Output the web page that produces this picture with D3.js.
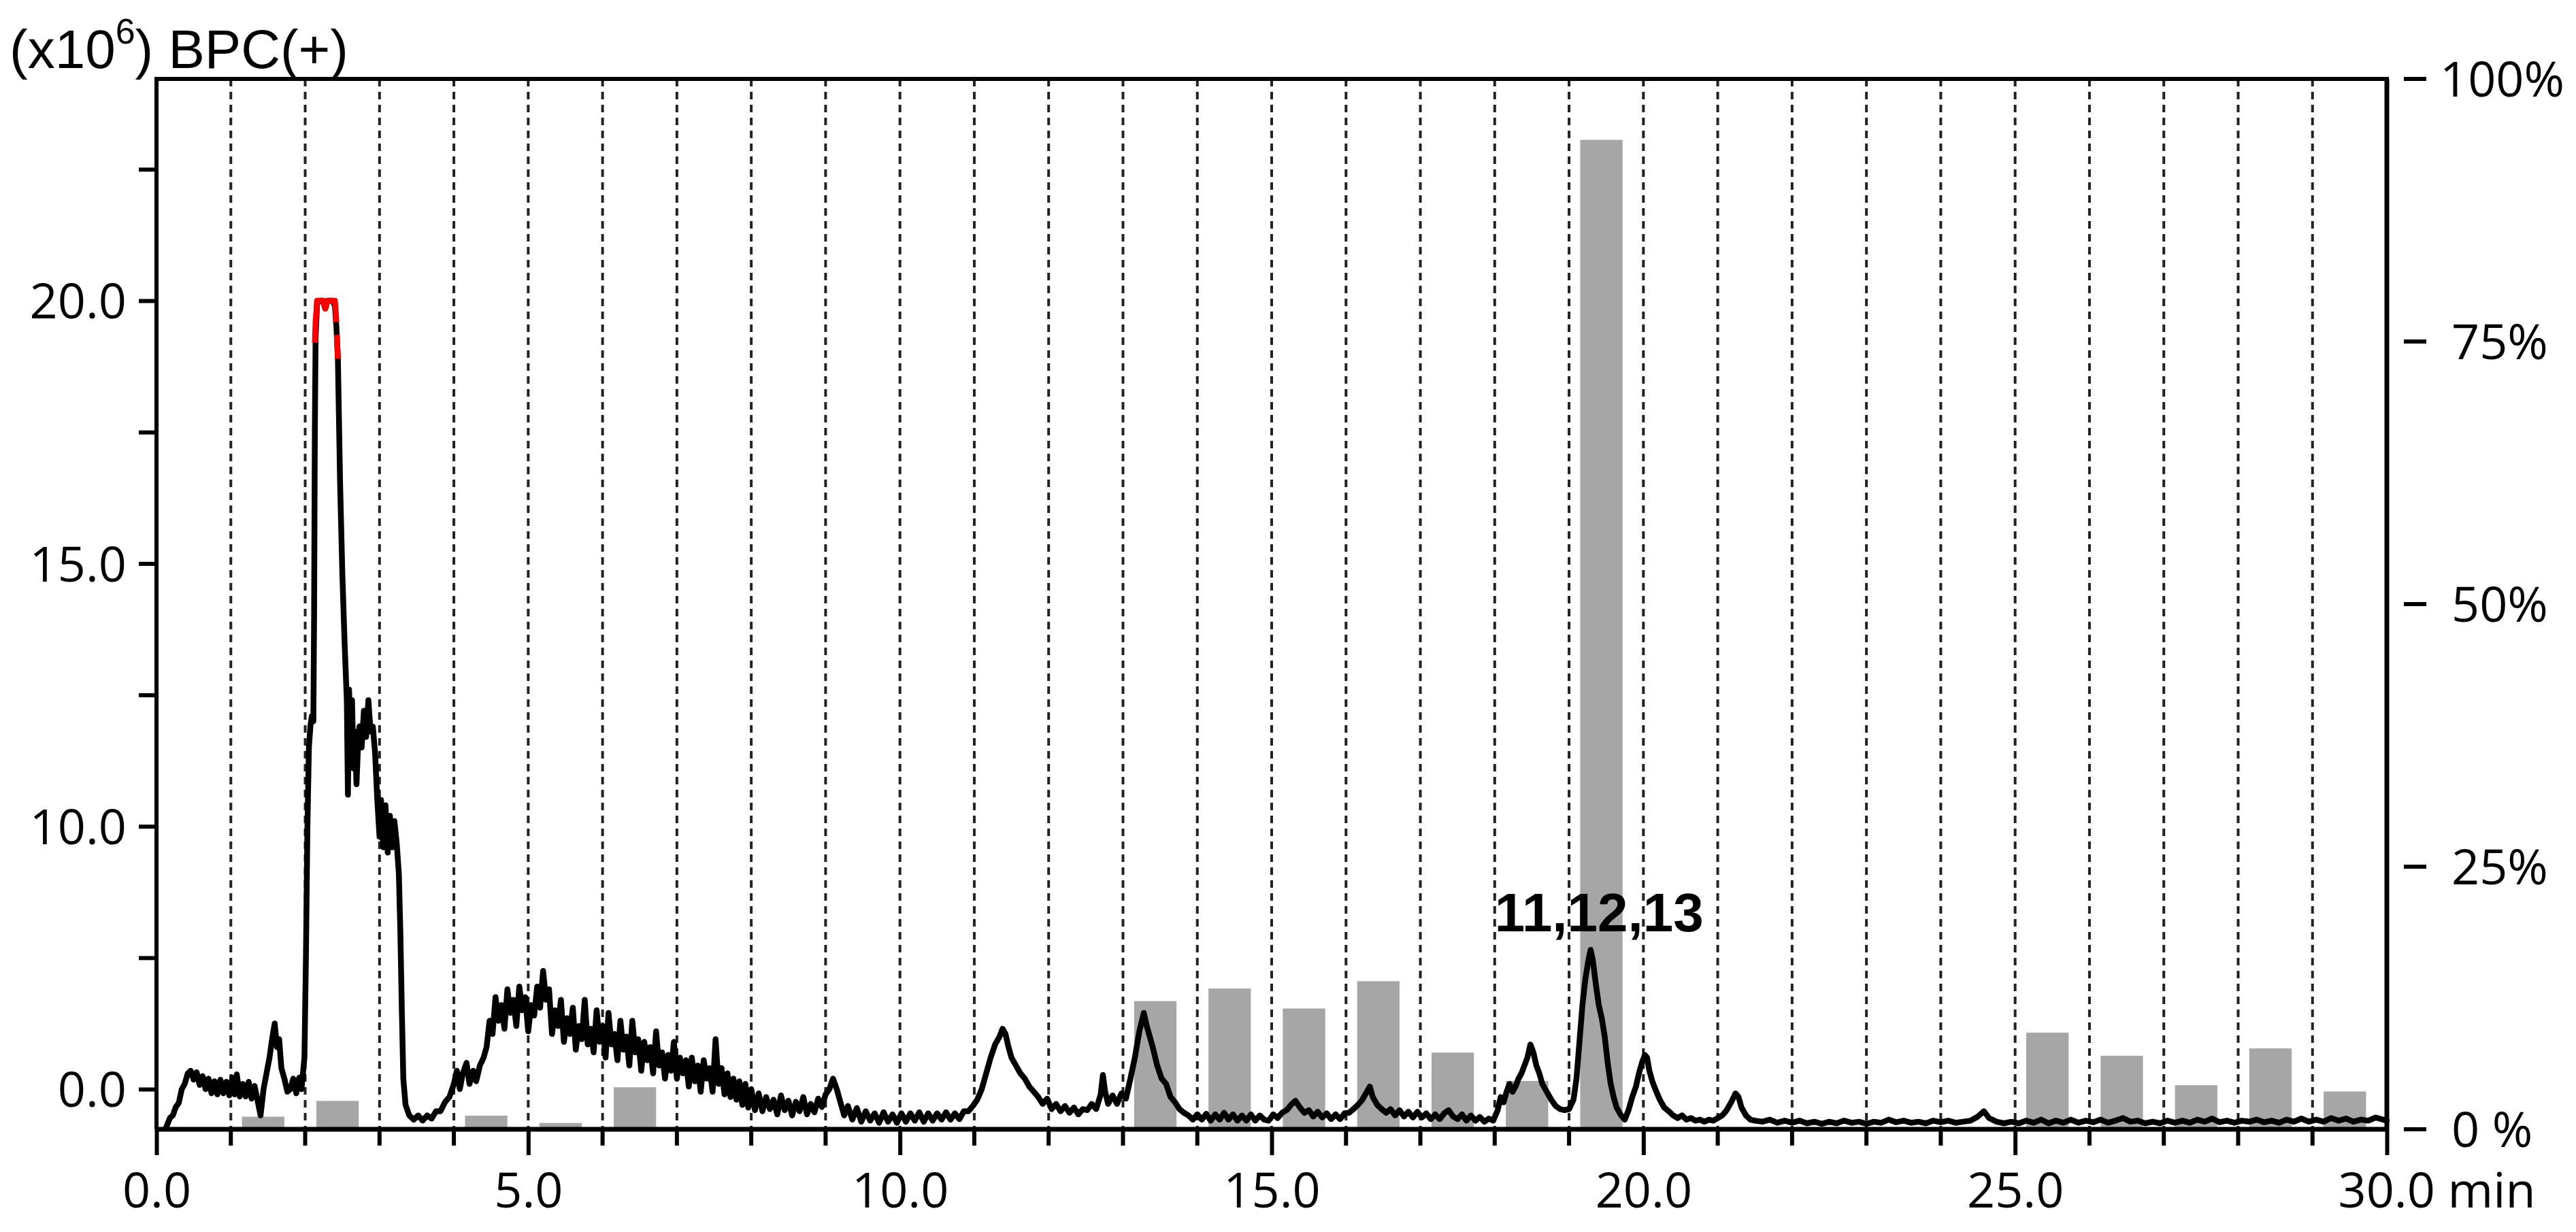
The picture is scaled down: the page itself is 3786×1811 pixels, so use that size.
<!DOCTYPE html>
<html><head><meta charset="utf-8">
<script src="https://cdn.jsdelivr.net/npm/d3@7"></script>
<style>
html,body{margin:0;padding:0;background:#fff;}
svg{display:block;}
</style></head>
<body>
<svg id="chart" width="3786" height="1811"></svg>
<script>
// ---- data ----
const xTicksMajor = [0,5,10,15,20,25,30];
const xTickLabels = ["0.0","5.0","10.0","15.0","20.0","25.0","30.0"];
const xUnit = "min";
const gridMinutes = d3.range(1,30);
const yLeftTicks = [5,7.5,10,12.5,15,17.5,20,22.5];
const yLeftLabels = ["0.0","","10.0","","15.0","","20.0",""];
const yRightTicks = [0,25,50,75,100];
const yRightLabels = ["0 %","25%","50%","75%","100%"];
const titleMain = "(x10";
const titleSup = "6";
const titleRest = ") BPC(+)";
const peakLabel = "11,12,13";
const peakLabelTime = 18.0;
const peakLabelValue = 8.0;

const barMinute = [1,2,4,5,6,13,14,15,16,17,18,19,25,26,27,28,29];
const barPercent = [1.2,2.7,1.3,0.6,4.0,12.2,13.4,11.5,14.1,7.3,4.6,94.2,9.2,7.0,4.2,7.7,3.6];

const trace = [
[0.13,4.27],[0.18,4.45],[0.22,4.5],[0.26,4.66],[0.30,4.74],[0.34,5.0],[0.38,5.1],[0.42,5.3],[0.46,5.35],[0.50,5.18],
[0.54,5.32],[0.58,5.08],[0.62,5.25],[0.66,5.0],[0.70,5.2],[0.74,4.92],[0.78,5.15],[0.82,4.9],[0.86,5.18],[0.90,4.92],
[0.94,5.14],[0.98,4.88],[1.02,5.22],[1.05,4.9],[1.08,5.28],[1.12,4.86],[1.16,5.1],[1.20,4.86],[1.24,5.14],[1.28,4.82],
[1.32,5.06],[1.36,4.78],[1.40,4.5],[1.44,5.0],[1.48,5.3],[1.52,5.6],[1.56,6.0],[1.59,6.25],[1.62,5.8],[1.65,5.95],
[1.68,5.4],[1.72,5.2],[1.76,4.95],[1.80,5.0],[1.84,5.2],[1.88,4.92],[1.92,5.22],[1.95,5.0],
[1.99,5.6],[2.01,7.5],[2.03,10.0],[2.05,11.5],[2.07,11.9],[2.09,12.1],[2.11,12.0],[2.12,14.0],[2.13,17.5],[2.14,19.3],
[2.16,19.95],[2.20,20.0],[2.24,20.0],[2.27,19.85],[2.30,20.0],[2.37,20.0],[2.40,19.9],[2.42,19.5],[2.44,18.9],
[2.47,16.5],[2.50,14.8],[2.53,13.5],[2.56,12.4],[2.575,10.6],[2.59,12.6],[2.61,11.8],[2.63,12.4],[2.65,11.1],[2.67,11.8],
[2.69,10.8],[2.71,11.5],[2.73,11.9],[2.76,11.5],[2.79,12.2],[2.82,11.7],[2.85,12.4],[2.88,11.8],[2.91,11.9],[2.94,11.4],
[2.97,10.5],[3.00,9.8],[3.02,10.5],[3.05,9.6],[3.08,10.4],[3.11,9.5],[3.14,10.2],[3.17,9.6],[3.20,10.1],[3.23,9.7],
[3.26,9.1],[3.28,8.0],[3.30,6.5],[3.32,5.2],[3.35,4.7],[3.40,4.5],[3.46,4.42],[3.52,4.5],[3.58,4.4],[3.64,4.5],
[3.70,4.44],[3.76,4.58],[3.82,4.58],[3.88,4.75],[3.94,4.85],[4.00,5.1],[4.04,5.35],[4.08,5.0],[4.12,5.3],[4.17,5.5],
[4.21,5.1],[4.26,5.35],[4.30,5.15],[4.35,5.45],[4.40,5.6],
[4.44,5.8],[4.48,6.3],[4.52,6.05],[4.56,6.75],[4.60,6.3],[4.64,6.6],[4.68,6.15],[4.72,6.9],[4.76,6.45],[4.80,6.7],
[4.84,6.2],[4.88,6.95],[4.92,6.5],[4.96,6.75],[5.00,6.1],[5.04,6.6],[5.08,6.4],[5.12,6.95],[5.16,6.55],[5.20,7.25],
[5.24,6.7],[5.28,6.9],[5.32,6.05],[5.36,6.5],[5.40,6.2],[5.44,6.7],[5.48,5.9],[5.52,6.35],[5.56,6.05],[5.60,6.55],
[5.64,5.75],[5.68,6.2],[5.72,5.95],[5.76,6.7],[5.80,5.85],[5.84,6.15],[5.88,5.7],[5.92,6.5],[5.96,5.9],[6.00,6.2],
[6.04,5.6],[6.08,6.45],[6.12,5.85],[6.16,6.05],[6.20,5.55],[6.24,6.3],[6.28,5.75],[6.32,6.0],[6.36,5.45],[6.40,6.3],
[6.44,5.7],[6.48,5.95],[6.52,5.35],[6.56,5.9],[6.60,5.55],[6.64,5.8],[6.68,5.3],[6.72,6.1],[6.76,5.45],[6.80,5.7],
[6.84,5.2],[6.88,5.65],[6.92,5.35],[6.96,5.9],[7.00,5.2],[7.04,5.6],[7.08,5.3],[7.12,5.55],[7.16,5.05],[7.20,5.6],
[7.24,5.15],[7.28,5.45],[7.32,4.95],[7.36,5.55],[7.40,5.2],[7.44,5.4],[7.48,4.95],[7.52,5.95],[7.56,5.1],[7.60,5.4],
[7.64,4.9],[7.68,5.3],[7.72,4.85],[7.76,5.2],[7.80,4.8],[7.84,5.15],[7.88,4.7],[7.92,5.1],[7.96,4.65],[8.00,5.0],
[8.05,4.6],[8.10,4.92],[8.15,4.58],[8.20,4.85],[8.25,4.62],[8.30,4.8],[8.35,4.52],[8.40,4.88],[8.45,4.6],[8.50,4.78],
[8.55,4.5],[8.60,4.76],[8.65,4.58],[8.70,4.85],[8.75,4.52],[8.80,4.72],[8.85,4.56],[8.90,4.82],[8.95,4.66],[9.00,4.9],
[9.05,5.0],[9.10,5.2],[9.15,5.0],[9.20,4.75],[9.25,4.5],
[9.30,4.68],[9.36,4.42],[9.42,4.64],[9.48,4.38],[9.54,4.58],[9.60,4.4],[9.66,4.54],[9.72,4.36],[9.78,4.56],[9.84,4.38],
[9.90,4.52],[9.96,4.36],[10.02,4.54],[10.08,4.38],[10.14,4.54],[10.20,4.4],[10.26,4.56],[10.32,4.38],[10.38,4.54],[10.44,4.4],
[10.50,4.54],[10.56,4.42],[10.62,4.56],[10.68,4.42],[10.74,4.54],[10.80,4.43],[10.86,4.58],[10.92,4.58],[10.98,4.68],[11.04,4.8],
[11.10,5.0],[11.16,5.3],[11.22,5.6],[11.28,5.85],[11.34,6.0],[11.38,6.15],[11.42,6.05],[11.46,5.8],[11.50,5.6],[11.56,5.45],
[11.62,5.3],[11.68,5.2],[11.74,5.05],[11.80,4.95],[11.86,4.85],[11.92,4.72],[11.98,4.82],[12.04,4.62],[12.10,4.72],[12.16,4.58],
[12.22,4.68],[12.28,4.55],[12.34,4.65],[12.40,4.52],[12.46,4.62],[12.52,4.6],[12.58,4.72],[12.64,4.62],[12.70,4.9],[12.73,5.27],
[12.76,4.95],[12.80,4.72],[12.86,4.88],[12.92,4.72],[12.98,4.92],[13.04,4.82],[13.10,5.2],[13.16,5.6],[13.22,6.1],[13.28,6.45],
[13.32,6.2],[13.36,6.0],[13.40,5.8],[13.46,5.45],[13.52,5.2],[13.58,5.1],[13.64,4.85],[13.70,4.75],[13.76,4.62],[13.82,4.55],
[13.88,4.5],[13.94,4.42],[14.00,4.52],[14.06,4.42],[14.12,4.53],[14.18,4.4],[14.24,4.52],[14.30,4.42],[14.36,4.55],[14.42,4.42],
[14.48,4.52],[14.54,4.4],[14.60,4.5],[14.66,4.4],[14.72,4.52],[14.78,4.4],[14.84,4.5],[14.90,4.42],[14.96,4.4],[15.02,4.52],
[15.08,4.45],[15.14,4.55],[15.20,4.6],[15.26,4.7],[15.32,4.78],[15.38,4.65],[15.44,4.55],[15.50,4.6],[15.56,4.48],[15.62,4.57],
[15.68,4.46],[15.74,4.54],[15.80,4.43],[15.86,4.52],[15.92,4.43],[15.98,4.54],[16.04,4.55],[16.10,4.62],[16.16,4.7],[16.22,4.8],
[16.28,4.95],[16.32,5.05],[16.36,4.85],[16.42,4.7],[16.48,4.62],[16.54,4.55],[16.60,4.62],[16.66,4.5],[16.72,4.6],[16.78,4.48],
[16.84,4.57],[16.90,4.46],[16.96,4.57],[17.02,4.46],[17.08,4.54],[17.14,4.43],[17.20,4.52],[17.26,4.43],[17.32,4.54],[17.38,4.6],
[17.44,4.48],[17.50,4.43],[17.56,4.52],[17.62,4.4],[17.68,4.5],[17.74,4.4],[17.80,4.47],[17.86,4.38],[17.92,4.44],[17.98,4.4],
[18.04,4.6],[18.08,4.85],[18.12,4.75],[18.16,4.95],[18.20,5.1],[18.24,4.95],[18.28,5.05],[18.32,5.2],[18.36,5.3],[18.40,5.45],
[18.44,5.6],[18.48,5.85],[18.52,5.7],[18.56,5.45],[18.60,5.3],[18.64,5.1],[18.70,4.95],[18.76,4.8],[18.82,4.68],[18.88,4.62],
[18.94,4.6],[19.00,4.62],[19.06,4.8],[19.10,5.2],[19.14,5.9],[19.18,6.6],[19.22,7.1],[19.26,7.45],[19.29,7.65],[19.32,7.45],
[19.36,7.0],[19.40,6.6],[19.44,6.35],[19.48,6.0],[19.52,5.5],[19.56,5.1],[19.60,4.85],[19.64,4.65],[19.70,4.5],[19.75,4.42],
[19.80,4.6],[19.85,4.85],[19.90,5.05],[19.94,5.3],[19.98,5.5],[20.02,5.65],[20.05,5.6],[20.08,5.35],[20.12,5.15],[20.16,5.0],
[20.22,4.8],[20.28,4.65],[20.34,4.58],[20.40,4.5],[20.46,4.45],[20.52,4.5],[20.58,4.42],[20.64,4.45],[20.70,4.4],[20.76,4.42],
[20.82,4.38],[20.88,4.42],[20.94,4.4],[21.00,4.45],[21.06,4.5],[21.12,4.6],[21.18,4.75],[21.24,4.92],[21.28,4.85],[21.32,4.65],
[21.38,4.5],[21.44,4.42],[21.50,4.4],[21.6,4.38],[21.7,4.42],[21.8,4.36],[21.9,4.4],[22.0,4.36],[22.1,4.4],[22.2,4.35],
[22.3,4.38],[22.4,4.34],[22.5,4.38],[22.6,4.35],[22.7,4.4],[22.8,4.36],[22.9,4.38],[23.0,4.34],[23.1,4.38],[23.2,4.36],
[23.3,4.42],[23.4,4.37],[23.5,4.4],[23.6,4.36],[23.7,4.38],[23.8,4.35],[23.9,4.4],[24.0,4.37],[24.1,4.4],[24.2,4.36],
[24.3,4.38],[24.4,4.4],[24.5,4.48],[24.58,4.58],[24.65,4.45],[24.75,4.38],[24.85,4.35],[24.95,4.38],[25.05,4.35],[25.15,4.4],
[25.25,4.36],[25.35,4.42],[25.45,4.35],[25.55,4.4],[25.65,4.36],[25.75,4.42],[25.85,4.36],[25.95,4.4],[26.05,4.37],[26.15,4.42],
[26.25,4.36],[26.35,4.4],[26.45,4.45],[26.55,4.38],[26.65,4.4],[26.75,4.35],[26.85,4.38],[26.95,4.35],[27.05,4.4],[27.15,4.36],
[27.25,4.4],[27.35,4.36],[27.45,4.42],[27.55,4.38],[27.65,4.44],[27.75,4.37],[27.85,4.4],[27.95,4.36],[28.05,4.4],[28.15,4.38],
[28.25,4.42],[28.35,4.37],[28.45,4.4],[28.55,4.36],[28.65,4.42],[28.75,4.38],[28.85,4.44],[28.95,4.38],[29.05,4.42],[29.15,4.38],
[29.25,4.45],[29.35,4.4],[29.45,4.44],[29.55,4.38],[29.65,4.42],[29.75,4.4],[29.85,4.46],[29.95,4.42],[30.0,4.4]
];
// saturated (red) segments of the trace
const saturatedA = [[2.13,19.2],[2.14,19.6],[2.16,20.0],[2.24,20.0],[2.27,19.85],[2.30,20.0],[2.40,20.0],[2.42,19.6]];
const saturatedB = [[2.425,19.35],[2.44,18.9]];

// ---- layout ----
const svg = d3.select("#chart");
const X0 = 230, X1 = 3508, YT = 116, YB = 1660;
const x = d3.scaleLinear().domain([0,30]).range([X0,X1]);
const yL = d3.scaleLinear().domain([5,20]).range([1601,442]);
const yR = d3.scaleLinear().domain([0,100]).range([YB,YT]);
const tickFont = "'Open Sans', 'Noto Sans', sans-serif";
const arialFont = "'Liberation Sans', Arial, sans-serif";

// dashed minute grid
svg.append("g").selectAll("line").data(gridMinutes).join("line")
  .attr("x1", d=>x(d)).attr("x2", d=>x(d))
  .attr("y1", YT).attr("y2", YB)
  .attr("stroke", "#222").attr("stroke-width", 4)
  .attr("stroke-dasharray", "11,8");

// bars (right axis %)
svg.append("g").selectAll("rect").data(barMinute.map((m,i)=>({m, p:barPercent[i]}))).join("rect")
  .attr("x", d=>x(d.m+0.15))
  .attr("width", d=>x(d.m+0.72)-x(d.m+0.15))
  .attr("y", d=>yR(d.p))
  .attr("height", d=>yR(0)-yR(d.p))
  .attr("fill", "#a6a6a6");

// trace
const line = d3.line().x(d=>x(d[0])).y(d=>yL(d[1]));
svg.append("path").datum(trace).attr("d", line)
  .attr("fill","none").attr("stroke","#000").attr("stroke-width",8.5)
  .attr("stroke-linejoin","round").attr("stroke-linecap","round");
[saturatedA, saturatedB].forEach(seg=>{
  svg.append("path").datum(seg).attr("d", line)
    .attr("fill","none").attr("stroke","#ff0000").attr("stroke-width",8.5)
    .attr("stroke-linejoin","round");
});

// frame: top and right lines
svg.append("line").attr("x1",X0).attr("x2",X1).attr("y1",YT).attr("y2",YT)
  .attr("stroke","#000").attr("stroke-width",6).attr("stroke-linecap","square");
svg.append("line").attr("x1",X1).attr("x2",X1).attr("y1",YT).attr("y2",YB)
  .attr("stroke","#000").attr("stroke-width",7);

// left axis
const leftAxis = d3.axisLeft(yL).tickValues(yLeftTicks)
  .tickFormat((d,i)=>yLeftLabels[i]).tickSize(26).tickPadding(18);
const gL = svg.append("g").attr("transform",`translate(${X0},0)`).call(leftAxis);
gL.select(".domain").attr("d", `M0,${YT}V${YB}`).attr("stroke","#000").attr("stroke-width",6);
gL.selectAll(".tick line").attr("stroke","#000").attr("stroke-width",6);
gL.selectAll(".tick text").attr("font-family",tickFont).attr("font-size",72).attr("fill","#000")
  .attr("dy","0.36em");

// bottom axis: minor ticks
const gBm = svg.append("g").attr("transform",`translate(0,${YB})`);
gBm.selectAll("line").data(d3.range(0,31).filter(m=>m%5!==0)).join("line")
  .attr("x1", d=>x(d)).attr("x2", d=>x(d)).attr("y1",0).attr("y2",24)
  .attr("stroke","#000").attr("stroke-width",6);
const bottomAxis = d3.axisBottom(x).tickValues(xTicksMajor)
  .tickFormat((d,i)=>xTickLabels[i]).tickSize(38).tickPadding(26);
const gB = svg.append("g").attr("transform",`translate(0,${YB})`).call(bottomAxis);
gB.select(".domain").attr("d", `M${X0},0H${X1}`).attr("stroke","#000").attr("stroke-width",7);
gB.selectAll(".tick line").attr("stroke","#000").attr("stroke-width",6);
gB.selectAll(".tick text").attr("font-family",tickFont).attr("font-size",72).attr("fill","#000")
  .attr("dy","0.71em");
// unit after last label
gB.selectAll(".tick").filter(d=>d===30).select("text")
  .attr("text-anchor","start").attr("dx", -72)
  .text(xTickLabels[xTickLabels.length-1] + " " + xUnit);

// right axis: detached dashes and labels
const gR = svg.append("g");
gR.selectAll("line").data(yRightTicks).join("line")
  .attr("x1", 3533).attr("x2", 3566)
  .attr("y1", d=>yR(d)).attr("y2", d=>yR(d))
  .attr("stroke","#000").attr("stroke-width",6);
gR.selectAll("text").data(yRightTicks).join("text")
  .attr("x", (d)=> d===100 ? 3586 : 3603)
  .attr("y", d=>yR(d)).attr("dy","0.36em")
  .attr("font-family",tickFont).attr("font-size",72).attr("fill","#000")
  .text((d,i)=>yRightLabels[i]);

// title
const title = svg.append("text").attr("x", 14).attr("y", 100)
  .attr("font-family", arialFont).attr("font-size", 80).attr("fill","#000");
title.append("tspan").text(titleMain);
title.append("tspan").attr("font-size", 52).attr("dy", -36).text(titleSup);
title.append("tspan").attr("dy", 36).text(titleRest);

// peak annotation
svg.append("text").attr("x", x(peakLabelTime)).attr("y", yL(peakLabelValue))
  .attr("font-family", arialFont).attr("font-weight","bold").attr("font-size", 80)
  .attr("fill","#000").text(peakLabel);
</script>
</body></html>
